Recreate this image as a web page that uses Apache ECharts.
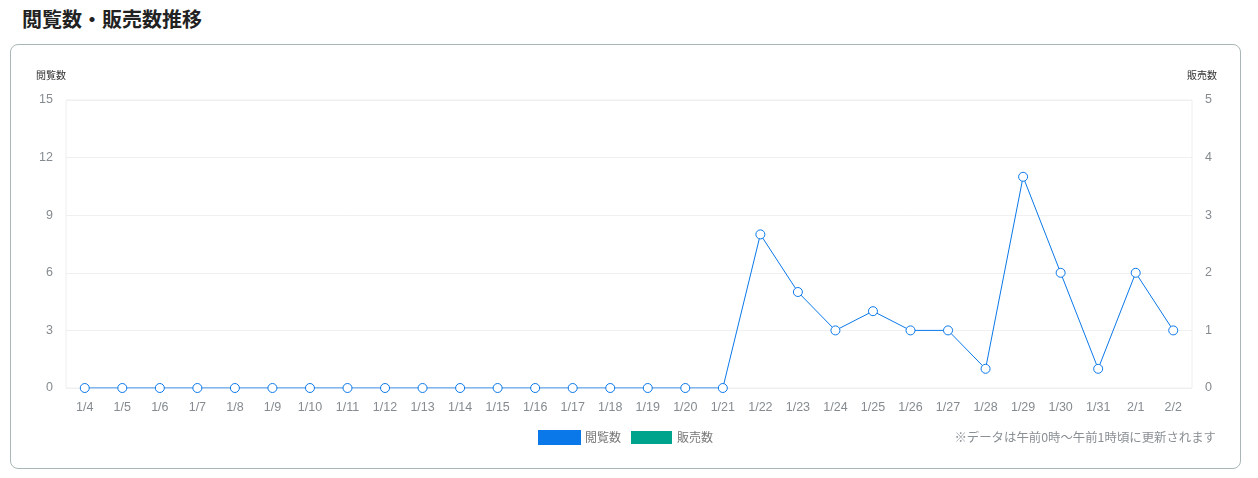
<!DOCTYPE html>
<html lang="ja">
<head>
    <meta charset="UTF-8">
    <title>閲覧数・販売数推移</title>
    <style>
        body{
            margin: 0;
            background: #fff;
            font-family: "Noto Sans CJK JP", "Noto Sans", sans-serif;
        }
        .title{
            position: absolute;
            left: 22px;
            top: 4px;
            font-size: 20px;
            font-weight: bold;
            color: #222;
        }
        .box{
            position: absolute;
            left: 10px;
            top: 44px;
            width: 1229px;
            height: 423px;
            border: 1px solid #aab6b6;
            border-radius: 8px;
        }
        #main{
            position: absolute;
            left: 0;
            top: 0;
            width: 1258px;
            height: 478px;
        }
    </style>
</head>
<body>
    <div class="title">閲覧数・販売数推移</div>
    <div class="box"></div>
    <div id="main"></div>
    <script src="https://cdn.jsdelivr.net/npm/echarts@6/dist/echarts.min.js"></script>
    <script type="text/javascript">
        var days = ['1/4','1/5','1/6','1/7','1/8','1/9','1/10','1/11','1/12','1/13','1/14','1/15','1/16','1/17','1/18','1/19','1/20','1/21','1/22','1/23','1/24','1/25','1/26','1/27','1/28','1/29','1/30','1/31','2/1','2/2'];
        var views = [0,0,0,0,0,0,0,0,0,0,0,0,0,0,0,0,0,0,8,5,3,4,3,3,1,11,6,1,6,3];
        var sales = [0,0,0,0,0,0,0,0,0,0,0,0,0,0,0,0,0,0,0,0,0,0,0,0,0,0,0,0,0,0];

        var myChart = echarts.init(document.getElementById('main'));

        var blue = '#0a78e8';
        var teal = '#00a38b';
        var labelColor = '#858b90';
        var option = {
            textStyle: {
                fontFamily: '"Liberation Sans", "Noto Sans CJK JP", sans-serif'
            },
            animation: false,
            grid: {
                left: 66,
                right: 66,
                top: 100,
                bottom: 90,
                show: true,
                borderColor: '#eeeeee',
                borderWidth: 1
            },
            legend: {
                data: [
                    { name: '閲覧数', itemStyle: { color: blue } },
                    { name: '販売数', itemStyle: { color: teal } }
                ],
                icon: 'rect',
                itemWidth: 41,
                itemHeight: 13,
                itemGap: 10,
                left: 533,
                top: 425,
                textStyle: {
                    color: '#777',
                    fontSize: 12,
                    fontFamily: '"Noto Sans CJK JP", sans-serif'
                }
            },
            graphic: [{
                type: 'text',
                right: 42,
                top: 431,
                style: {
                    text: '※データは午前0時～午前1時頃に更新されます',
                    fill: '#8a8f94',
                    fontSize: 12.4,
                    fontFamily: '"Noto Sans CJK JP", sans-serif'
                }
            }],
            xAxis: {
                type: 'category',
                data: days,
                axisTick: { show: false },
                axisLine: { show: false },
                axisLabel: {
                    color: labelColor,
                    fontSize: 12.5,
                    margin: 13,
                    interval: 0
                }
            },
            yAxis: [{
                type: 'value',
                name: '閲覧数',
                nameGap: 20,
                nameTextStyle: {
                    color: '#333',
                    fontSize: 10,
                    align: 'right',
                    fontFamily: '"Noto Sans CJK JP", sans-serif'
                },
                min: 0,
                max: 15,
                interval: 3,
                axisLine: { show: false },
                axisTick: { show: false },
                axisLabel: {
                    color: labelColor,
                    fontSize: 12.5,
                    margin: 13
                },
                splitLine: {
                    lineStyle: { color: '#f0f0f0' }
                }
            }, {
                type: 'value',
                name: '販売数',
                nameGap: 20,
                nameTextStyle: {
                    color: '#333',
                    fontSize: 10,
                    align: 'left',
                    padding: [0, 0, 0, -5],
                    fontFamily: '"Noto Sans CJK JP", sans-serif'
                },
                min: 0,
                max: 5,
                interval: 1,
                axisLine: { show: false },
                axisTick: { show: false },
                axisLabel: {
                    color: labelColor,
                    fontSize: 12.5,
                    margin: 13
                },
                splitLine: { show: false }
            }],
            series: [{
                name: '閲覧数',
                type: 'line',
                data: views,
                symbol: 'circle',
                symbolSize: 9,
                lineStyle: { width: 1, color: blue },
                itemStyle: { color: '#fff', borderColor: blue, borderWidth: 1 }
            }, {
                name: '販売数',
                type: 'bar',
                yAxisIndex: 1,
                data: sales,
                barWidth: 16,
                itemStyle: { color: teal }
            }]
        };

        myChart.setOption(option);
    </script>
</body>
</html>
